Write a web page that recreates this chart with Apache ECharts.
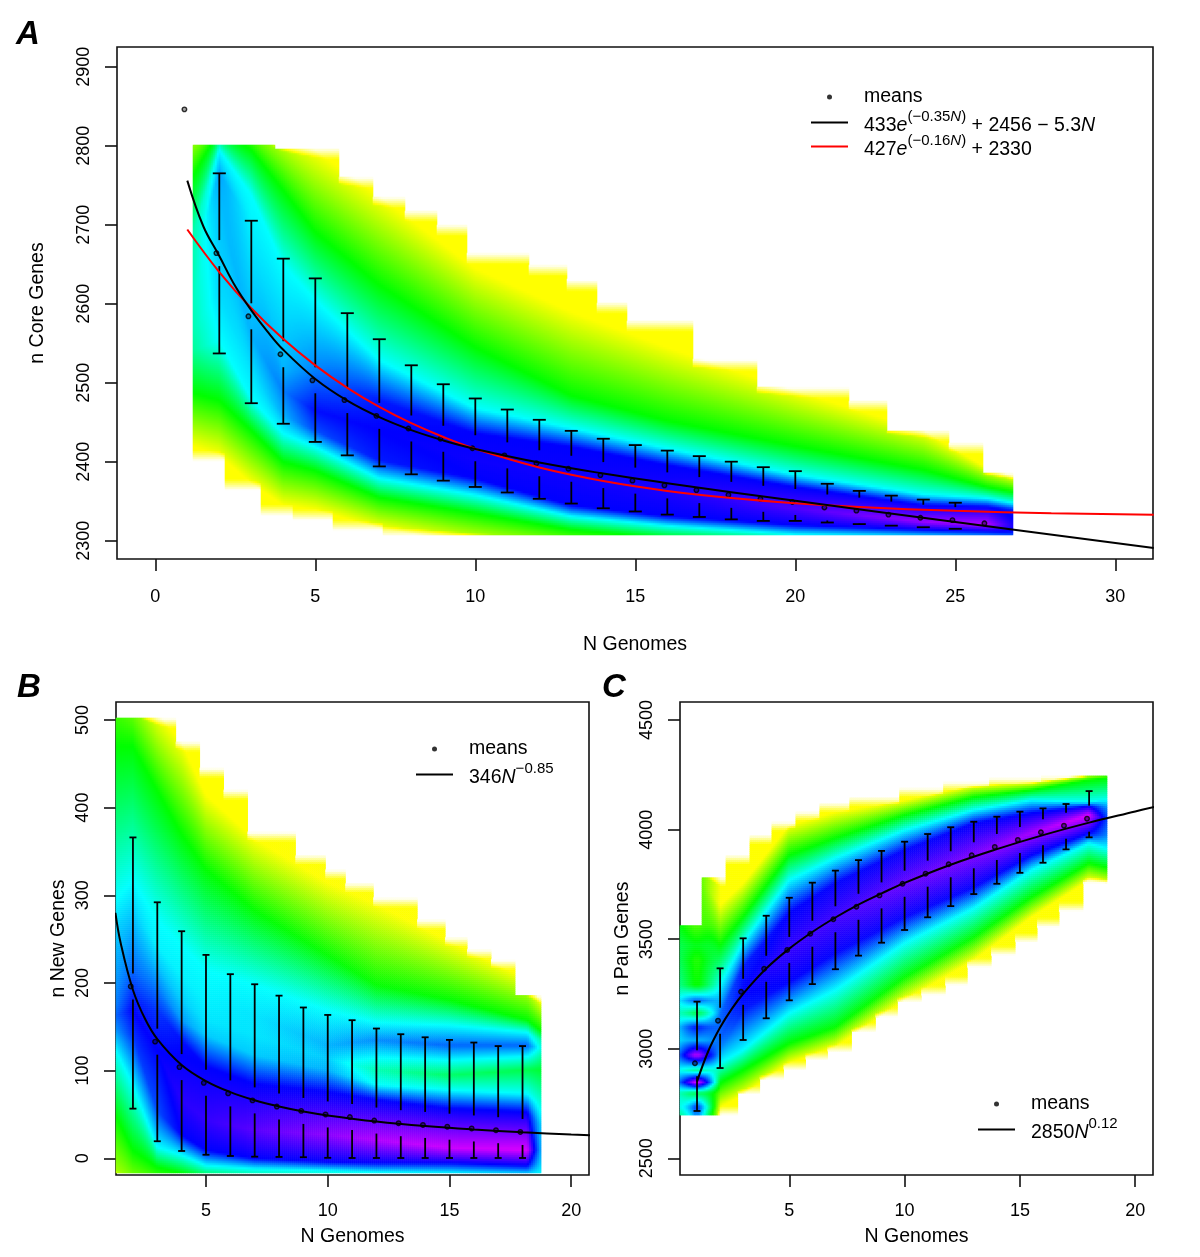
<!DOCTYPE html>
<html>
<head>
<meta charset="utf-8">
<style>html,body{margin:0;padding:0;background:#fff}#c{width:1200px;height:1257px}</style>
<script src="https://cdn.jsdelivr.net/npm/echarts@6/dist/echarts.min.js"></script>
</head>
<body>
<div id="c"></div>
<script>
// ---------- tick labels ----------
const ticksAx = [0, 5, 10, 15, 20, 25, 30];
const ticksAy = [2300, 2400, 2500, 2600, 2700, 2800, 2900];
const ticksBx = [5, 10, 15, 20];
const ticksBy = [0, 100, 200, 300, 400, 500];
const ticksCx = [5, 10, 15, 20];
const ticksCy = [2500, 3000, 3500, 4000, 4500];

// ---------- panel A: means and error bars ----------
const meansA = [2846, 2664, 2584, 2536, 2503, 2478, 2458, 2442, 2429, 2417, 2408, 2398, 2391, 2383, 2376, 2370, 2364, 2358, 2353, 2349, 2342, 2338, 2333, 2329, 2326, 2322];
const hiA = [null, 2765, 2705, 2657, 2632, 2588, 2555, 2522, 2498, 2480, 2466, 2453, 2439, 2429, 2421, 2414, 2407, 2400, 2393, 2388, 2372, 2363, 2357, 2352, 2348, null];
const loA = [null, 2537, 2474, 2448, 2425, 2408, 2394, 2384, 2376, 2368, 2361, 2353, 2347, 2341, 2337, 2333, 2330, 2327, 2325, 2325, 2323, 2321, 2319, 2317, 2315, null];
const fitA1 = [[1, 2755.8], [1.5, 2698], [2, 2660.4], [2.5, 2622], [3, 2591.6], [3.5, 2565], [4, 2541.6], [5, 2504.7], [6, 2477.2], [7, 2456.3], [8, 2439.9], [9, 2426.9], [10, 2416.1], [12, 2398.9], [14, 2385], [16, 2372.8], [18, 2361.4], [20, 2350.4], [25, 2323.6], [31.2, 2290.6]];
const fitA2 = [[1, 2693.9], [2, 2640], [3, 2594.2], [4, 2555.2], [5, 2521.9], [6, 2493.5], [7, 2469.3], [8, 2448.7], [9, 2431.2], [10, 2416.2], [12, 2392.6], [14, 2375.5], [16, 2363], [18, 2354], [20, 2347.4], [22, 2342.6], [25, 2337.8], [28, 2334.8], [31.2, 2332.9]];

// ---------- panel B ----------
const meansB = [196, 133, 104, 86, 74, 66, 59, 54, 50, 47, 43, 40, 38, 36, 34, 32, 30];
const hiB = [366, 292, 259, 232, 210, 198.5, 185.5, 172, 163.5, 157.5, 148, 141.5, 138, 135, 132, 128, 128];
const loB = [56.6, 19.4, 8.3, 4, 2.6, 1.8, 1.5, 1.2, 0.5, 0.3, 0.3, 0.3, 0.3, 0.3, 0.3, 0.3, 0.3];
const fitB = [[1.28, 280], [1.5, 245], [2, 192], [2.5, 158.8], [3, 136], [4, 106.5], [5, 88.1], [6, 75.5], [7, 66.2], [8, 59.1], [9, 53.4], [10, 48.9], [12, 41.9], [14, 36.7], [16, 32.8], [18, 29.7], [20, 27.1], [20.8, 26.3]];

// ---------- panel C ----------
const meansC = [2934, 3128, 3260, 3365, 3451, 3525, 3591, 3648, 3700, 3753, 3799, 3842, 3883, 3921, 3953, 3988, 4018, 4050];
const hiC = [3215, 3367, 3504, 3607, 3689, 3758, 3813, 3861, 3903, 3945, 3980, 4011, 4036, 4059, 4082, 4097, 4117, 4176];
const loC = [2716, 2912, 3040, 3139, 3221, 3295, 3363, 3425, 3484, 3542, 3600, 3651, 3706, 3753, 3803, 3849, 3910, 3965];
const fitC = [[1, 2850], [1.5, 2992], [2, 3097], [2.5, 3181], [3, 3251], [4, 3366], [5, 3457], [6, 3533], [7, 3599], [8, 3658], [9, 3709], [10, 3757], [12, 3840], [14, 3911], [16, 3975], [18, 4032], [20, 4083], [20.9, 4106]];

// ---------- density shading ----------
// colour level: 1 yellow, 2 green, 3 cyan, 4 blue, 5 magenta
const densNA = [1.2, 2, 3, 4, 5, 7, 10, 13, 16, 20, 24, 26, 26.8];
const densYA = [
  [2833, 2763, 2690, 2649, 2605, 2567, 2541, 2487, 2419],
  [2845, 2820, 2795, 2767, 2731, 2617, 2554, 2478, 2408],
  [2845, 2795, 2738, 2700, 2560, 2514, 2480, 2440, 2373],
  [2820, 2744, 2649, 2515, 2490, 2459, 2436, 2400, 2345],
  [2795, 2691, 2605, 2515, 2465, 2440, 2419, 2389, 2339],
  [2737, 2624, 2529, 2478, 2440, 2402, 2379, 2355, 2316],
  [2645, 2545, 2468, 2436, 2402, 2379, 2358, 2335, 2295],
  [2590, 2484, 2443, 2419, 2379, 2345, 2331, 2314, 2282],
  [2545, 2452, 2417, 2396, 2364, 2331, 2319, 2303, 2276],
  [2490, 2420, 2384, 2368, 2341, 2320, 2308, 2296, 2269],
  [2440, 2390, 2359, 2345, 2324, 2314, 2305, 2292, 2269],
  [2392, 2368, 2354, 2343, 2321, 2312, 2303, 2291, 2267],
  [2382, 2362, 2348, 2339, 2319, 2310, 2301, 2288, 2263]
];
const densLA = [
  [1, 2, 2.7, 2.7, 2.75, 2.7, 2.6, 2, 1],
  [1, 2, 3, 3.35, 3.25, 3.15, 3, 2, 1],
  [1, 2, 3, 3.05, 3.3, 3.1, 3, 2, 1],
  [1, 2, 3, 3.3, 3.5, 3.3, 3, 2, 1],
  [1, 2, 3, 3.5, 3.95, 3.7, 3, 2, 1],
  [1, 2, 3, 3.9, 4, 3.9, 3, 2, 1],
  [1, 2, 3, 4, 4.05, 4, 3, 2, 1],
  [1, 2, 3, 4, 4.05, 4, 3, 2, 1],
  [1, 2, 3, 4, 4.1, 4, 3, 2, 1],
  [1, 2, 3, 4, 4.3, 4, 3, 2, 1],
  [1, 2, 3, 4, 4.6, 4, 3, 2, 1],
  [1, 2, 3, 4, 4.7, 4, 3, 2, 1],
  [1, 2, 3, 3.9, 4.1, 3.9, 3, 2, 1]
];
const densTopA = [[1.2, 2801], [3.77, 2797], [5.71, 2760], [6.8, 2735], [7.8, 2718], [8.8, 2700], [9.75, 2664], [11.7, 2649], [12.87, 2630], [13.8, 2602], [14.77, 2579], [16.83, 2529], [18.8, 2494], [21.7, 2478], [22.86, 2440], [24.8, 2424], [25.86, 2386]];
const densBotA = [[1.2, 2401], [2.2, 2364], [3.3, 2332], [4.3, 2326], [5.55, 2313], [7.1, 2306]];
const densEndA = 26.8;

const densNB = [1.3, 2, 3, 4, 5, 7, 10, 12, 15, 18.2, 18.75];
const densYB = [
  [620, 470, 295, 260, 232, 203, 175, 163, 146, 124, 49, -31],
  [560, 470, 317, 283, 249, 215, 181, 169, 141, 84, 9.5, -42],
  [510, 420, 272, 243, 220, 198, 169, 124, 55, 13, -10, -48],
  [475, 370, 243, 209, 181, 158, 135, 67, 27, 4, -17, -53],
  [415, 330, 215, 181, 158, 141, 105, 44, 9.5, -8, -25, -59],
  [365, 283, 198, 163, 141, 118, 85, 32, 0, -12, -31, -65],
  [315, 232, 169, 129, 114, 101, 76, 27, -4, -14, -36, -70],
  [290, 198, 155, 135, 101, 84, 67, 21, -5, -16, -36, -70],
  [248, 181, 152, 129, 95, 78, 57, 12, -5, -17, -36, -70],
  [205, 158, 144, 129, 101, 74, 53, 9.5, -8, -19, -36, -70],
  [180, 146, 135, 126, 101, 67, 38, 9.5, -4, -19, -36, -70]
];
const densLB = [
  [1, 2, 3, 3.2, 3.3, 3.4, 3.5, 3.6, 3.4, 3, 2, 1.2],
  [1, 2, 3, 3.2, 3.4, 3.6, 3.9, 4, 3.8, 3, 2, 1.2],
  [1, 2, 3, 3.05, 3.25, 3.5, 3.8, 4, 3.7, 3, 2, 1.2],
  [1, 2, 3, 3.05, 3.2, 3.4, 3.95, 4.15, 4, 3, 2, 1.2],
  [1, 2, 3, 3.05, 3.1, 3.2, 4, 4.2, 4, 3, 2, 1.2],
  [1, 2, 3, 3.1, 3.1, 3.2, 4, 4.35, 4, 3, 2, 1.2],
  [1, 2, 3, 3.3, 3.2, 3.3, 4, 4.55, 4, 3, 2, 1.2],
  [1, 2, 3, 3.45, 2.7, 3, 4, 4.7, 4, 3, 2, 1.2],
  [1, 2, 3, 3.6, 2.4, 3, 4, 4.8, 4, 3, 2, 1.2],
  [1, 2, 3, 3.6, 2.3, 3, 4, 4.85, 4, 3, 2, 1.2],
  [1, 2, 2.7, 2.9, 2.2, 2.8, 3.2, 3.3, 3.2, 3, 2, 1.2]
];
const densTopB = [[1.3, 502], [3.73, 475], [4.71, 445], [5.74, 420], [6.72, 372], [8.65, 346], [9.89, 329], [10.7, 314], [11.86, 297], [13.7, 272], [14.8, 252], [15.76, 238], [16.75, 226], [17.73, 186]];
const densBotB = [[1.2, -17.5]];
const densEndB = 18.78;

const densNC = [0.26, 2, 3, 5, 7, 10, 13, 15.5, 18, 18.75];
const densYC = [
  [3907, 3679, 3268, 3086, 2949, 2835, 2766, 2675, 2584],
  [3656, 3473, 3291, 3154, 3040, 2994, 2935, 2844, 2734],
  [3756, 3601, 3483, 3373, 3254, 3177, 2994, 2903, 2789],
  [4021, 3884, 3770, 3620, 3451, 3305, 3163, 3026, 2935],
  [4081, 3962, 3871, 3756, 3592, 3437, 3268, 3099, 3008],
  [4135, 4067, 3998, 3907, 3752, 3601, 3483, 3327, 3222],
  [4204, 4149, 4090, 4030, 3884, 3738, 3642, 3510, 3405],
  [4217, 4181, 4136, 4076, 3985, 3884, 3816, 3693, 3601],
  [4254, 4227, 4126, 4108, 4067, 3985, 3939, 3848, 3770],
  [4263, 4236, 4144, 4099, 4053, 3976, 3916, 3829, 3756]
];
const densLC = [
  [1, 2, 2.8, 3, 3.2, 3, 2.8, 2, 1],
  [1, 2, 3, 3.6, 3.6, 3.4, 3, 2, 1],
  [1, 2, 3, 3.9, 4, 3.9, 3, 2, 1],
  [1, 2, 3, 4, 4.2, 4, 3, 2, 1],
  [1, 2, 3, 4, 4.25, 4, 3, 2, 1],
  [1, 2, 3, 4, 4.4, 4, 3, 2, 1],
  [1, 2, 3, 4, 4.5, 4, 3, 2, 1],
  [1, 2, 3, 4, 4.65, 4, 3, 2, 1],
  [1, 2, 3, 4, 4.85, 4, 3, 2, 1],
  [1, 2, 2.9, 3.5, 3.8, 3.5, 3, 2, 1]
];
const densTopC = [[0.26, 3565], [1.22, 3784], [2.26, 3884], [3.3, 3976], [4.25, 4035], [5.25, 4081], [6.33, 4122], [7.63, 4149], [9.8, 4190], [11.7, 4217], [13.7, 4236], [15.9, 4245]];
const densBotC = [[0.26, 2698], [2.78, 2793], [3.69, 2861], [4.73, 2903], [5.72, 2949], [6.68, 2985], [7.72, 3077], [8.71, 3146], [9.71, 3214], [10.75, 3246], [11.75, 3291], [12.75, 3373], [13.74, 3428], [14.78, 3487], [15.78, 3556], [16.74, 3629], [17.73, 3756]];
const densEndC = 18.8;
// horizontal stripes at the far left of panel C (one-genome column)
const stripeYC = [3565, 3473, 3405, 3291, 3222, 3163, 3099, 3040, 2971, 2903, 2848, 2798, 2734, 2698];
const stripeLC = [1.7, 2.1, 1.9, 2, 3.6, 2.3, 3.9, 3.3, 4.7, 2.6, 4.8, 2.3, 3.7, 3.4];

// ---------- density helpers ----------
function stepAt(table, n) {
  let v = null;
  for (const row of table) { if (n >= row[0]) v = row[1]; }
  return v;
}
function profile(v, ys, ls) {
  if (v >= ys[0]) return ls[0];
  for (let i = 1; i < ys.length; i++) {
    if (v >= ys[i]) {
      const t = (ys[i - 1] - v) / Math.max(1e-6, ys[i - 1] - ys[i]);
      return ls[i - 1] + (ls[i] - ls[i - 1]) * t;
    }
  }
  return ls[ls.length - 1];
}
function densityCells(p) {
  const out = [];
  for (let i = 0; i < p.nx; i++) {
    const n = p.xMin + (i + 0.5) / p.nx * (p.xMax - p.xMin);
    if (n > p.end) continue;
    const top = stepAt(p.top, n), bot = stepAt(p.bot, n);
    if (top == null || bot == null) continue;
    let k = 0;
    while (k < p.ns.length - 2 && n > p.ns[k + 1]) k++;
    const t = Math.min(1, Math.max(0, (n - p.ns[k]) / (p.ns[k + 1] - p.ns[k])));
    const ys = p.ys[k].map((y, s) => y + (p.ys[k + 1][s] - y) * t);
    const ls = p.ls[k].map((l, s) => l + (p.ls[k + 1][s] - l) * t);
    for (let j = 0; j < p.ny; j++) {
      const v = p.yMin + (j + 0.5) / p.ny * (p.yMax - p.yMin);
      if (v > top || v < bot) continue;
      let l = profile(v, ys, ls);
      if (p.stripeY) {
        const w = Math.max(0, Math.min(1, 1.1 - Math.abs(n - 1) / 0.95));
        if (w > 0) l = l + (profile(v, p.stripeY, p.stripeL) - l) * w;
      }
      const f = Math.min(top - v, v - bot) / p.fade;
      const final = Math.min(l, f + 3 * Math.max(0, l - 1));
      out.push([i, j, final]);
    }
  }
  return out;
}
function indexList(n) { return Array.from({ length: n }, (_, i) => i); }

// ---------- panels ----------
const FONT = '"Liberation Sans", Arial, sans-serif';
const panels = [
  { key: 'A', left: 117, top: 47, width: 1036, height: 512, xMin: -1.197, xMax: 31.178, yMin: 2276.8, yMax: 2924.9,
    ticksX: ticksAx, ticksY: ticksAy, yName: 'n Core Genes', xGap: 76, yGap: 69, xMargin: 29, yMargin: 24,
    ns: densNA, ys: densYA, ls: densLA, top2: densTopA, bot: densBotA, end: densEndA, fade: 14, nx: 518, ny: 256,
    means: meansA, hi: hiA, lo: loA, start: 1, cap: 6.5,
    fits: [{ name: '433e(-0.35N)+2456-5.3N', data: fitA1, color: '#000' }, { name: '427e(-0.16N)+2330', data: fitA2, color: '#ff0000' }] },
  { key: 'B', left: 116, top: 702, width: 473, height: 473, xMin: 1.304, xMax: 20.73, yMin: -19.1, yMax: 520.5,
    ticksX: ticksBx, ticksY: ticksBy, yName: 'n New Genes', xGap: 52, yGap: 47, xMargin: 27, yMargin: 24,
    ns: densNB, ys: densYB, ls: densLB, top2: densTopB, bot: densBotB, end: densEndB, fade: 11, nx: 237, ny: 237,
    means: meansB, hi: hiB, lo: loB, start: 2, cap: 3.5,
    fits: [{ name: '346N^-0.85', data: fitB, color: '#000' }] },
  { key: 'C', left: 680, top: 702, width: 473, height: 473, xMin: 0.262, xMax: 20.77, yMin: 2423.8, yMax: 4582.6,
    ticksX: ticksCx, ticksY: ticksCy, yName: 'n Pan Genes', xGap: 52, yGap: 47, xMargin: 27, yMargin: 24,
    ns: densNC, ys: densYC, ls: densLC, top2: densTopC, bot: densBotC, end: densEndC, fade: 42, nx: 237, ny: 237,
    stripeY: stripeYC, stripeL: stripeLC,
    means: meansC, hi: hiC, lo: loC, start: 1, cap: 3.5,
    fits: [{ name: '2850N^0.12', data: fitC, color: '#000' }] }
];

const rich = {
  g: { fontSize: 4, fontFamily: FONT, color: '#fff', lineHeight: 4 },
  m: { fontSize: 19.5, fontFamily: FONT, color: '#000', lineHeight: 22 },
  n: { fontSize: 19.5, fontFamily: FONT, color: '#000', lineHeight: 27, verticalAlign: 'bottom' },
  i: { fontSize: 19.5, fontFamily: FONT, fontStyle: 'italic', color: '#000', lineHeight: 27, verticalAlign: 'bottom' },
  s: { fontSize: 15, fontFamily: FONT, color: '#000', lineHeight: 15, verticalAlign: 'top' },
  si: { fontSize: 15, fontFamily: FONT, fontStyle: 'italic', color: '#000', lineHeight: 15, verticalAlign: 'top' }
};
const legendText = {
  'means': '{g| }\n{m|means}\n{g| }',
  '433e(-0.35N)+2456-5.3N': '{n|433}{i|e}{s|(\u22120.35}{si|N}{s|)}{n| + 2456 \u2212 5.3}{i|N}',
  '427e(-0.16N)+2330': '{n|427}{i|e}{s|(\u22120.16}{si|N}{s|)}{n| + 2330}',
  '346N^-0.85': '{n|346}{i|N}{s|\u22120.85}',
  '2850N^0.12': '{n|2850}{i|N}{s|0.12}'
};

const xAxes = [], yAxes = [], grids = [], series = [], heatIdx = [];
panels.forEach((p, g) => {
  grids.push({ show: true, left: p.left, top: p.top, width: p.width, height: p.height,
    borderColor: '#111', borderWidth: 1.6, backgroundColor: 'transparent' });
  const ax = g * 2, cat = g * 2 + 1;
  const tickStyle = { show: true, length: 12, inside: false, lineStyle: { color: '#111', width: 1.6 } };
  xAxes.push({ type: 'value', gridIndex: g, min: p.xMin, max: p.xMax, position: 'bottom',
    axisLine: { show: false, onZero: false }, splitLine: { show: false },
    axisTick: Object.assign({ customValues: p.ticksX }, tickStyle),
    axisLabel: { customValues: p.ticksX, formatter: v => String(v), color: '#000', fontSize: 18, fontFamily: FONT, margin: p.xMargin },
    name: 'N Genomes', nameLocation: 'middle', nameGap: p.xGap, nameTextStyle: { color: '#000', fontSize: 19.5, fontFamily: FONT } });
  xAxes.push({ type: 'category', gridIndex: g, show: false, data: indexList(p.nx) });
  yAxes.push({ type: 'value', gridIndex: g, min: p.yMin, max: p.yMax, position: 'left',
    axisLine: { show: false, onZero: false }, splitLine: { show: false },
    axisTick: Object.assign({ customValues: p.ticksY }, tickStyle),
    axisLabel: { customValues: p.ticksY, rotate: 90, formatter: v => String(v), color: '#000', fontSize: 18, fontFamily: FONT, margin: p.yMargin },
    name: p.yName, nameLocation: 'middle', nameGap: p.yGap, nameRotate: 90, nameTextStyle: { color: '#000', fontSize: 19.5, fontFamily: FONT } });
  yAxes.push({ type: 'category', gridIndex: g, show: false, data: indexList(p.ny) });

  heatIdx.push(series.length);
  series.push({ type: 'heatmap', xAxisIndex: cat, yAxisIndex: cat, silent: true, progressive: 0, z: 1,
    data: densityCells({ ns: p.ns, ys: p.ys, ls: p.ls, top: p.top2, bot: p.bot, end: p.end, fade: p.fade,
      nx: p.nx, ny: p.ny, xMin: p.xMin, xMax: p.xMax, yMin: p.yMin, yMax: p.yMax, stripeY: p.stripeY, stripeL: p.stripeL }) });

  const rows = p.means.map((m, i) => [i + p.start, p.hi[i], p.lo[i], m]).filter(r => r[1] != null);
  series.push({ type: 'custom', name: 'error bars', xAxisIndex: ax, yAxisIndex: ax, z: 3, silent: true, clip: true,
    encode: { x: 0, y: [1, 2] }, data: rows,
    renderItem: (params, api) => {
      const n = api.value(0);
      const top = api.coord([n, api.value(1)]), bot = api.coord([n, api.value(2)]), mid = api.coord([n, api.value(3)]);
      const st = { stroke: '#000', lineWidth: 1.8, fill: 'none' };
      const kids = [
        { type: 'line', shape: { x1: top[0] - p.cap, y1: top[1], x2: top[0] + p.cap, y2: top[1] }, style: st },
        { type: 'line', shape: { x1: bot[0] - p.cap, y1: bot[1], x2: bot[0] + p.cap, y2: bot[1] }, style: st }
      ];
      const gap = 13;
      if (mid[1] - gap > top[1]) kids.push({ type: 'line', shape: { x1: top[0], y1: top[1], x2: top[0], y2: mid[1] - gap }, style: st });
      if (mid[1] + gap < bot[1]) kids.push({ type: 'line', shape: { x1: bot[0], y1: mid[1] + gap, x2: bot[0], y2: bot[1] }, style: st });
      return { type: 'group', children: kids };
    } });
  series.push({ type: 'scatter', name: 'means', xAxisIndex: ax, yAxisIndex: ax, z: 4, silent: true,
    symbol: 'circle', symbolSize: 4.5, itemStyle: { color: 'rgba(0,0,0,0.45)', borderColor: '#000', borderWidth: 1.4 },
    data: p.means.map((m, i) => [i + p.start - 0.09, m]) });
  p.fits.forEach(f => {
    series.push({ type: 'line', name: f.name, xAxisIndex: ax, yAxisIndex: ax, z: f.color === '#000' ? 6 : 5, silent: true,
      symbol: 'none', showSymbol: false, smooth: 0.4, clip: true, data: f.data, lineStyle: { color: f.color, width: 2 }, itemStyle: { color: f.color } });
  });
});

function legendFor(names, left, top, itemGap) {
  return { show: true, left, top, orient: 'vertical', itemWidth: 37, itemHeight: 5, itemGap, selectedMode: false,
    padding: 0, backgroundColor: 'transparent', textStyle: { rich, fontSize: 19.5, fontFamily: FONT, color: '#000', padding: [0, 0, 0, 11] },
    data: names.map(n => n === 'means'
      ? { name: n, icon: 'circle', itemStyle: { color: '#000', borderColor: '#000', borderWidth: 0 } }
      : { name: n, itemStyle: { color: 'rgba(0,0,0,0)', borderWidth: 0 } }),
    formatter: n => legendText[n] };
}

const letterStyle = { fontFamily: FONT, fontWeight: 'bold', fontStyle: 'italic', fontSize: 33, color: '#000' };
const chart = echarts.init(document.getElementById('c'), null, { renderer: 'canvas', width: 1200, height: 1257 });
chart.setOption({
  animation: false,
  backgroundColor: '#fff',
  title: [
    { text: 'A', left: 16, top: 18, textStyle: letterStyle, padding: 0 },
    { text: 'B', left: 17, top: 671, textStyle: letterStyle, padding: 0 },
    { text: 'C', left: 602, top: 671, textStyle: letterStyle, padding: 0 }
  ],
  grid: grids, xAxis: xAxes, yAxis: yAxes,
  visualMap: { show: false, type: 'continuous', seriesIndex: heatIdx, dimension: 2, min: 0, max: 5,
    inRange: { color: ['#ffffff', '#ffff00', '#00ff00', '#00ffff', '#0000ff', '#ff00ff'] } },
  legend: [
    legendFor(['means', '433e(-0.35N)+2456-5.3N', '427e(-0.16N)+2330'], 810, 82, -3),
    legendFor(['means', '346N^-0.85'], 415, 734, -3),
    legendFor(['means', '2850N^0.12'], 977, 1089, -3)
  ],
  series
});
</script>
</body>
</html>
